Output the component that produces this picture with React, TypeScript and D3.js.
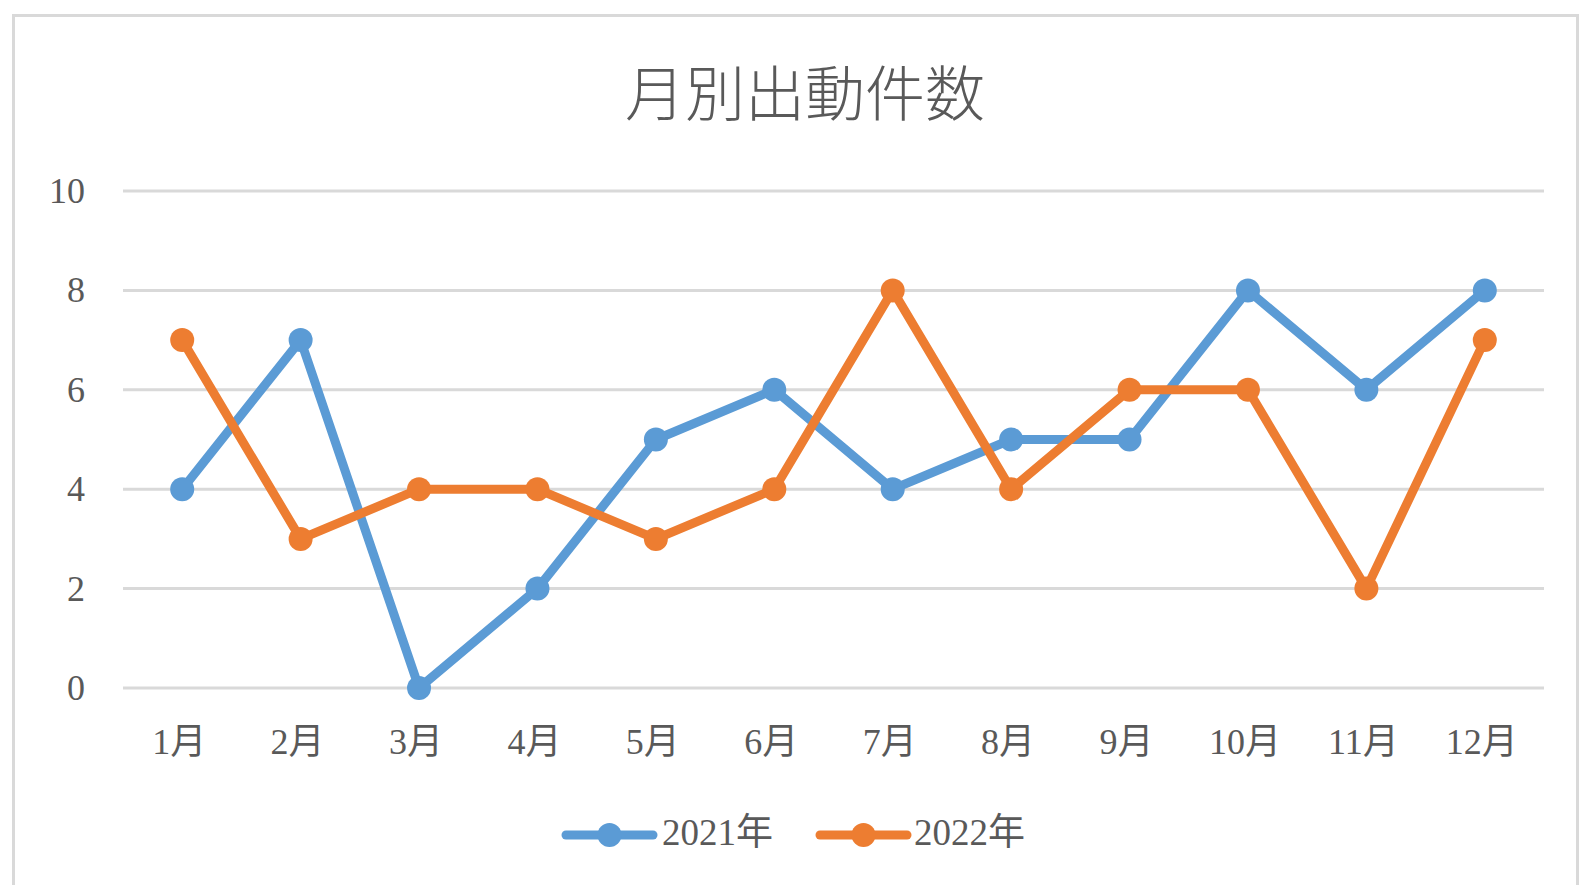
import React from "react";
import * as d3 from "d3";

const months = ["1月", "2月", "3月", "4月", "5月", "6月", "7月", "8月", "9月", "10月", "11月", "12月"];
const series2021 = [4, 7, 0, 2, 5, 6, 4, 5, 5, 8, 6, 8];
const series2022 = [7, 3, 4, 4, 3, 4, 8, 4, 6, 6, 2, 7];
const yTicks = [0, 2, 4, 6, 8, 10];
const seriesNames = ["2021年", "2022年"];
const title = "月別出動件数";

const W = 1580;
const H = 885;
const FONT = "'Liberation Serif', 'Noto Sans CJK JP', serif";
const TEXT = "#595959";
const COLORS = ["#5B9BD5", "#ED7D31"];

export default function App() {
  const x = d3.scaleBand<string>().domain(months).range([123, 1544]);
  const y = d3.scaleLinear().domain([0, 10]).range([688, 191]);
  const line = d3
    .line<number>()
    .x((_, i) => (x(months[i]) as number) + x.bandwidth() / 2)
    .y((d) => y(d));
  const all = [series2021, series2022];

  const legend = [
    { x0: 566, x1: 653, text: 662 },
    { x0: 820, x1: 907, text: 914 },
  ];

  return (
    <svg
      width={W}
      height={H}
      style={{ position: "fixed", left: 0, top: 0, background: "#fff" }}
    >
      <rect x={0} y={0} width={W} height={H} fill="#fff" />
      <rect
        x={13.5}
        y={15.5}
        width={1564}
        height={H}
        fill="#fff"
        stroke="#d9d9d9"
        strokeWidth={3}
      />
      <text
        x={805}
        y={89}
        textAnchor="middle"
        dominantBaseline="central"
        fontFamily="'Noto Sans CJK JP', sans-serif"
        fontSize={60}
        fontWeight={300}
        fill={TEXT}
      >
        {title}
      </text>
      {yTicks.map((t) => (
        <g key={t}>
          <line x1={123} x2={1544} y1={y(t)} y2={y(t)} stroke="#d9d9d9" strokeWidth={3} />
          <text
            x={85}
            y={y(t)}
            textAnchor="end"
            dominantBaseline="central"
            fontFamily={FONT}
            fontSize={36}
            fill={TEXT}
          >
            {t}
          </text>
        </g>
      ))}
      {months.map((m) => (
        <text
          key={m}
          x={(x(m) as number) + x.bandwidth() / 2 - 3}
          y={742}
          textAnchor="middle"
          dominantBaseline="central"
          fontFamily={FONT}
          fontSize={36}
          fill={TEXT}
        >
          {m}
        </text>
      ))}
      {all.map((s, si) => (
        <g key={si}>
          <path
            d={line(s) || ""}
            fill="none"
            stroke={COLORS[si]}
            strokeWidth={9}
            strokeLinejoin="round"
            strokeLinecap="round"
          />
          {s.map((v, i) => (
            <circle
              key={i}
              cx={(x(months[i]) as number) + x.bandwidth() / 2}
              cy={y(v)}
              r={12}
              fill={COLORS[si]}
            />
          ))}
        </g>
      ))}
      {legend.map((l, i) => (
        <g key={i}>
          <line
            x1={l.x0}
            x2={l.x1}
            y1={835}
            y2={835}
            stroke={COLORS[i]}
            strokeWidth={9}
            strokeLinecap="round"
          />
          <circle cx={(l.x0 + l.x1) / 2} cy={835} r={12} fill={COLORS[i]} />
          <text
            x={l.text}
            y={832}
            dominantBaseline="central"
            fontFamily={FONT}
            fontSize={37}
            fill={TEXT}
          >
            {seriesNames[i]}
          </text>
        </g>
      ))}
    </svg>
  );
}
